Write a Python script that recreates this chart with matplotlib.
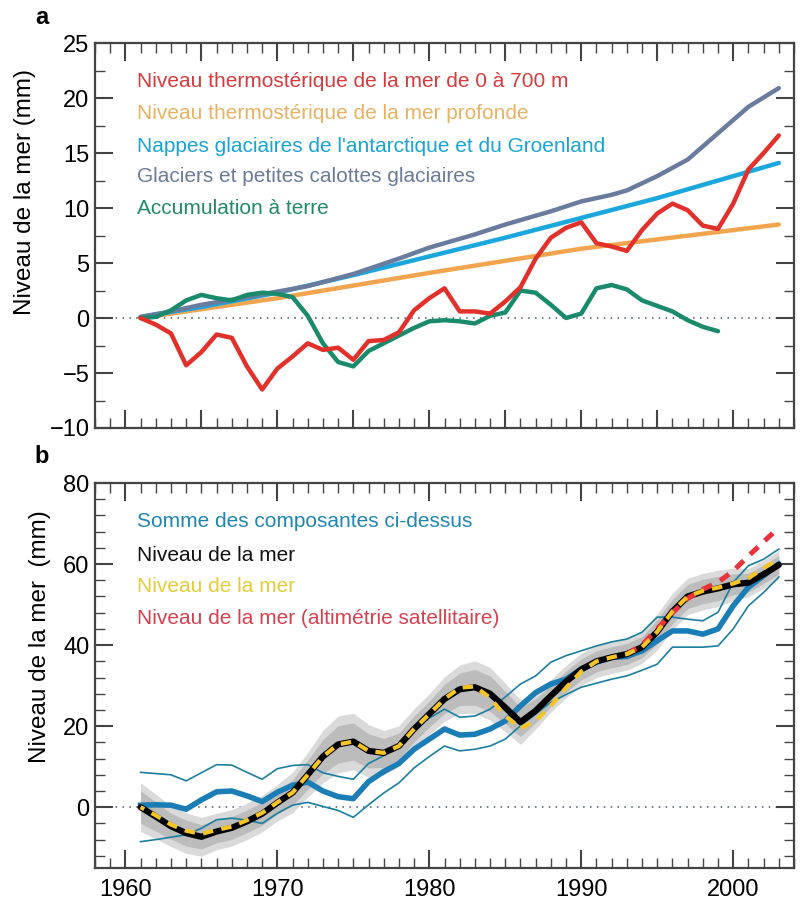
import numpy as np
import matplotlib
matplotlib.use("Agg")
import matplotlib.pyplot as plt
from matplotlib.ticker import MultipleLocator

plt.rcParams['font.family'] = ['Liberation Sans', 'DejaVu Sans']

# ---- panel a data ----
years_a = list(range(1961, 2004))
thermo_700 = [0, -0.6, -1.4, -4.3, -3.1, -1.5, -1.8, -4.4, -6.5, -4.6, -3.5, -2.3, -2.9,
              -2.7, -3.8, -2.1, -2.0, -1.3, 0.7, 1.8, 2.7, 0.6, 0.6, 0.4, 1.5, 2.8, 5.4,
              7.3, 8.2, 8.7, 6.8, 6.5, 6.1, 8.0, 9.5, 10.4, 9.8, 8.4, 8.1, 10.4, 13.5,
              15.0, 16.6]
deep_years = [1961, 1970, 1980, 1990, 2003]
thermo_deep = [0, 1.8, 4.1, 6.3, 8.5]
ice_years = [1961, 1965, 1970, 1975, 1980, 1985, 1990, 1995, 2000, 2003]
ice_sheets = [0.1, 1.0, 2.3, 3.9, 5.6, 7.3, 9.1, 10.9, 12.9, 14.1]
glac_years = [1961, 1963, 1965, 1968, 1970, 1972, 1975, 1978, 1980, 1983, 1985, 1988,
              1990, 1992, 1993, 1995, 1997, 1999, 2001, 2003]
glaciers = [0.1, 0.6, 1.2, 1.9, 2.4, 2.9, 4.0, 5.4, 6.4, 7.6, 8.5, 9.7, 10.6, 11.2,
            11.6, 12.9, 14.4, 16.8, 19.2, 20.9]
land_years = list(range(1961, 2000))
land = [0, 0.1, 0.7, 1.6, 2.1, 1.8, 1.6, 2.1, 2.3, 2.2, 1.9, 0.2, -2.3, -4.0, -4.4,
        -3.0, -2.3, -1.6, -0.9, -0.3, -0.2, -0.3, -0.5, 0.2, 0.5, 2.5, 2.3, 1.2, 0.0,
        0.4, 2.7, 3.0, 2.6, 1.6, 1.1, 0.6, -0.2, -0.8, -1.2]

# ---- panel b data ----
years_b = list(range(1961, 2004))
sum_comp = [0.5, 0.6, 0.5, -0.5, 1.8, 3.8, 4.0, 2.8, 1.4, 3.7, 5.4, 6.2, 4.0, 2.6, 2.1,
            6.3, 8.8, 10.8, 14.3, 16.8, 19.3, 17.8, 18.0, 19.3, 21.3, 25.0, 28.3, 30.4,
            31.6, 34.1, 35.8, 37.0, 37.2, 38.6, 41.1, 43.5, 43.5, 42.7, 44.0, 49.7,
            54.3, 57.1, 60.0]
sum_upper = [8.6, 8.3, 8.0, 6.5, 8.5, 10.5, 10.4, 8.6, 6.9, 9.5, 10.3, 10.5, 8.5, 7.6,
             6.9, 10.8, 12.7, 15.4, 18.9, 22.0, 24.2, 22.2, 22.5, 24.2, 27.2, 30.4, 32.4,
             35.8, 37.4, 38.6, 39.8, 40.8, 41.5, 43.2, 46.9, 46.9, 46.4, 46.0, 48.1,
             55.5, 59.6, 61.2, 63.7]
sum_lower = [-8.5, -8.0, -7.4, -6.8, -5.2, -3.1, -2.7, -3.2, -4.0, -1.5, 0.5, 1.2, 0.2,
             -0.8, -2.5, 0.6, 3.5, 6.0, 9.7, 12.5, 15.1, 13.9, 14.3, 15.1, 16.8, 20.1,
             23.0, 25.9, 27.8, 29.6, 30.6, 31.6, 32.4, 33.8, 35.3, 39.5, 39.5, 39.5,
             39.8, 44.0, 49.7, 53.0, 56.8]
sea_level = [0, -2.3, -4.7, -6.4, -7.3, -6.0, -5.1, -3.5, -1.6, 1.1, 3.6, 8.0, 12.5,
             15.5, 16.2, 13.9, 13.4, 15.1, 19.3, 23.0, 26.7, 29.1, 29.6, 28.0, 24.6,
             21.0, 23.8, 27.5, 31.0, 34.0, 36.0, 37.0, 37.8, 39.5, 43.3, 48.3, 52.0,
             53.2, 54.0, 55.0, 55.4, 57.5, 59.8]
sea_level_2 = [0, -2.0, -4.3, -5.8, -6.6, -5.6, -4.8, -3.2, -1.4, 1.2, 3.6, 8.0, 12.5,
               15.5, 16.2, 13.9, 13.4, 15.1, 19.3, 23.0, 26.7, 29.5, 29.8, 27.0, 22.5,
               19.5, 21.3, 25.0, 29.5, 33.5, 36.0, 37.0, 37.8, 39.5, 43.3, 48.3, 52.0,
               53.4, 54.2, 55.2, 56.5, 59.0, 61.3]
err_outer = [6.0, 5.5, 5.0, 5.0, 4.8, 4.5, 4.5, 4.5, 4.5, 4.5, 5.0, 5.5, 6.5, 7.0, 7.0,
             6.5, 5.5, 5.0, 5.0, 5.0, 5.5, 6.0, 6.5, 6.5, 6.0, 5.5, 4.5, 4.0, 4.0, 4.0,
             4.0, 4.0, 4.0, 4.0, 4.5, 4.5, 4.5, 4.5, 4.5, 4.0, 3.5, 3.5, 3.5]
err_inner = [4.0, 3.6, 3.2, 3.2, 3.0, 2.8, 2.8, 2.8, 2.8, 2.8, 3.2, 3.6, 4.2, 4.6, 4.6,
             4.2, 3.6, 3.2, 3.2, 3.2, 3.6, 4.0, 4.4, 4.4, 4.0, 3.6, 3.0, 2.6, 2.6, 2.6,
             2.6, 2.6, 2.6, 2.6, 3.0, 3.0, 3.0, 3.0, 3.0, 2.6, 2.3, 2.3, 2.3]
alt_years = list(range(1993, 2004))
altimetry = [37.8, 40.0, 44.0, 48.0, 51.5, 53.8, 55.5, 58.3, 62.0, 65.5, 69.0]

fig = plt.figure(figsize=(8.03, 9.02), dpi=100)
ax_a = fig.add_axes([0.1183, 0.5255, 0.8705, 0.4268])
ax_b = fig.add_axes([0.1183, 0.0377, 0.8705, 0.4268])


def style_axes(ax):
    ax.set_xlim(1958, 2004)
    ax.xaxis.set_major_locator(MultipleLocator(5))
    ax.xaxis.set_minor_locator(MultipleLocator(1))
    ax.tick_params(which='both', direction='in', top=True, right=True,
                   color='#444444', labelsize=17)
    ax.tick_params(which='major', length=13, width=1.5)
    ax.tick_params(which='minor', length=7, width=1.0)
    ax.tick_params(axis='x', pad=8)
    ax.tick_params(axis='y', pad=4)
    for sp in ax.spines.values():
        sp.set_color('#444444')
        sp.set_linewidth(1.6)
    ax.axhline(0, color='#4a5a66', lw=1.1, ls=(0, (1, 3.5)), zorder=1)


# ---- panel a ----
ax_a.plot(deep_years, thermo_deep, color='#f2a54e', lw=3.2, solid_capstyle='round')
ax_a.plot(ice_years, ice_sheets, color='#19a7dd', lw=3.2, solid_capstyle='round')
ax_a.plot(glac_years, glaciers, color='#6a7c9e', lw=3.2, solid_capstyle='round')
ax_a.plot(land_years, land, color='#1a8a6c', lw=3.2, solid_capstyle='round')
ax_a.plot(years_a, thermo_700, color='#e2302a', lw=3.2, solid_capstyle='round')
style_axes(ax_a)
ax_a.set_ylim(-10, 25)
ax_a.yaxis.set_major_locator(MultipleLocator(5))
ax_a.yaxis.set_minor_locator(MultipleLocator(2.5))
ax_a.set_xticklabels([])
ax_a.set_ylabel('Niveau de la mer (mm)', fontsize=17.5)
ax_a.yaxis.set_label_coords(-0.084, 0.613)

legend_a = [('Niveau thermostérique de la mer de 0 à 700 m', '#d93a3c'),
            ('Niveau thermostérique de la mer profonde', '#e8b260'),
            ("Nappes glaciaires de l'antarctique et du Groenland", '#18a4d6'),
            ('Glaciers et petites calottes glaciaires', '#6b7b98'),
            ('Accumulation à terre', '#21896d')]
for (txt, col), yy in zip(legend_a, [0.899, 0.818, 0.732, 0.652, 0.569]):
    ax_a.text(0.060, yy, txt, color=col, fontsize=15, va='center', transform=ax_a.transAxes)

# ---- panel b ----
yb = np.array(years_b)
sl = np.array(sea_level)
eo = np.array(err_outer)
ei = np.array(err_inner)
ax_b.fill_between(yb, sl - eo, sl + eo, color='#dadada', lw=0, zorder=2)
ax_b.fill_between(yb, sl - ei, sl + ei, color='#bcbcbc', lw=0, zorder=2)
ax_b.plot(yb, sum_upper, color='#1a7fa0', lw=1.2, zorder=3)
ax_b.plot(yb, sum_lower, color='#1a7fa0', lw=1.2, zorder=3)
ax_b.plot(yb, sum_comp, color='#1b7db6', lw=4.0, zorder=4)
ax_b.plot(yb, sea_level, color='black', lw=4.5, zorder=5, solid_capstyle='round')
ax_b.plot(alt_years, altimetry, color='#e8333b', lw=3.6, ls=(0, (2.2, 1.8)), zorder=6)
ax_b.plot(yb, sea_level_2, color='#f5c526', lw=3.0, ls=(1.5, (2.5, 2.0)), zorder=7)
style_axes(ax_b)
ax_b.set_ylim(-15, 80)
ax_b.yaxis.set_major_locator(MultipleLocator(20))
ax_b.yaxis.set_minor_locator(MultipleLocator(4))
ax_b.set_xticks([1960, 1970, 1980, 1990, 2000], minor=False)
ax_b.xaxis.set_minor_locator(MultipleLocator(1))
ax_b.set_ylabel('Niveau de la mer  (mm)', fontsize=17.5)
ax_b.yaxis.set_label_coords(-0.063, 0.60)

legend_b = [('Somme des composantes ci-dessus', '#1e86b2'),
            ('Niveau de la mer', '#111111'),
            ('Niveau de la mer', '#e6cc38'),
            ('Niveau de la mer (altimétrie satellitaire)', '#d8404f')]
for (txt, col), yy in zip(legend_b, [0.899, 0.813, 0.730, 0.649]):
    ax_b.text(0.060, yy, txt, color=col, fontsize=15, va='center', transform=ax_b.transAxes)

fig.text(42 / 803, 1 - 18 / 902, 'a', fontsize=17, fontweight='bold', ha='center', va='center')
fig.text(42 / 803, 1 - 457 / 902, 'b', fontsize=17, fontweight='bold', ha='center', va='center')

fig.savefig('out.png', dpi=100)
